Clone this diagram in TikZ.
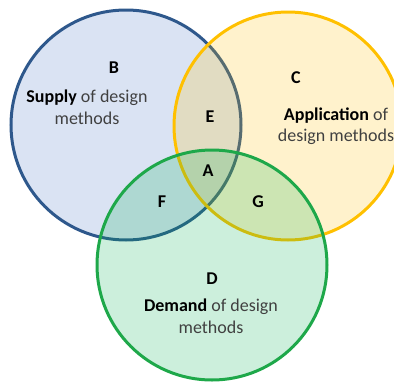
\documentclass[tikz,border=0pt]{standalone}
\usepackage{fontspec}
\setmainfont{Carlito}
\usepackage{xcolor}
\definecolor{supplyline}{RGB}{46,88,140}
\definecolor{supplyfill}{RGB}{68,114,196}
\definecolor{applyline}{RGB}{255,192,0}
\definecolor{demandline}{RGB}{30,168,74}
\definecolor{demandfill}{RGB}{0,176,80}
\definecolor{txtgray}{RGB}{64,64,64}

\tikzset{
  setletter/.style={font=\fontsize{18}{22}\selectfont\bfseries},
  settext/.style={font=\fontsize{18}{21.5}\selectfont,align=center,text=txtgray},
}

\begin{document}
\begin{tikzpicture}[x=1pt,y=-1pt,line width=3pt]
\useasboundingbox (0,0) rectangle (394,381);
% the three sets
\filldraw[draw=supplyline,fill=supplyfill,fill opacity=0.2] (126,125) circle (115);
\filldraw[draw=applyline,fill=applyline,fill opacity=0.2] (288,126) circle (114);
\filldraw[draw=demandline,fill=demandfill,fill opacity=0.2] (212,265) circle (115);
% region letters
\node[setletter] (b) at (114,68) {B};
\node[setletter] (c) at (296,78) {C};
\node[setletter] (d) at (212,279) {D};
\node[setletter] (e) at (210,117) {E};
\node[setletter] (a) at (208,171) {A};
\node[setletter] (f) at (162,202) {F};
\node[setletter] (g) at (258,202) {G};
% set names
\node[settext] (supply) at (87,107) {\textbf{\color{black}Supply} of design\\methods};
\node[settext] (apply) at (336,126) {\textbf{\color{black}Application} of\\design methods};
\node[settext] (demand) at (211,316) {\textbf{\color{black}Demand} of design\\methods};
\end{tikzpicture}
\end{document}
